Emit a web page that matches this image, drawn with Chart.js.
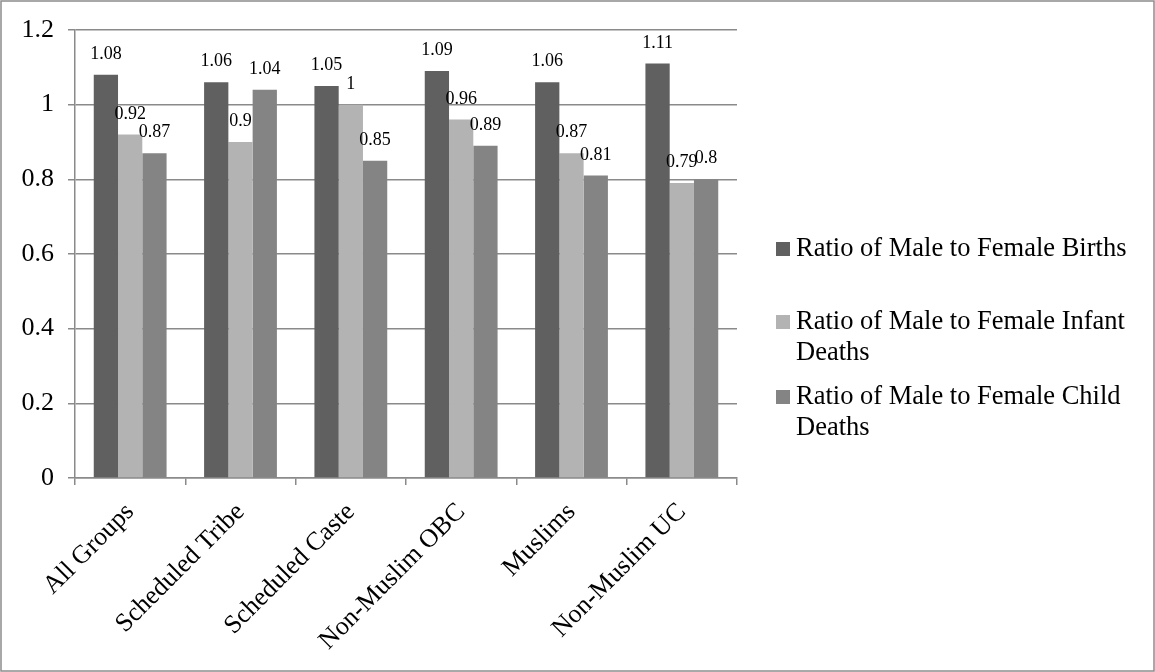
<!DOCTYPE html>
<html>
<head>
<meta charset="utf-8">
<script src="https://cdn.jsdelivr.net/npm/chart.js@4/dist/chart.umd.min.js"></script>
<style>
  html, body { margin: 0; padding: 0; background: #fff; }
  #wrap { width: 1155px; height: 672px; position: relative; }
</style>
</head>
<body>
<div id="wrap"><canvas id="c"></canvas></div>
<script>
// Groups on the x axis
const categories = ['All Groups', 'Scheduled Tribe', 'Scheduled Caste', 'Non-Muslim OBC', 'Muslims', 'Non-Muslim UC'];

// Series names (legend text, already split into lines)
const seriesNames = [
  ['Ratio of Male to Female Births'],
  ['Ratio of Male to Female Infant', 'Deaths'],
  ['Ratio of Male to Female Child', 'Deaths']
];

// Series values
const birthsRatio = [1.08, 1.06, 1.05, 1.09, 1.06, 1.11];
const infantDeathsRatio = [0.92, 0.9, 1, 0.96, 0.87, 0.79];
const childDeathsRatio = [0.87, 1.04, 0.85, 0.89, 0.81, 0.8];

// Y-axis tick labels
const yTickLabels = ['0', '0.2', '0.4', '0.6', '0.8', '1', '1.2'];

const seriesColors = ['#606060', '#b3b3b3', '#848484'];
const serif = "'Liberation Serif', 'Times New Roman', serif";
const axisGrey = '#8a8a8a';

// white background + outer frame
const framePlugin = {
  id: 'frame',
  beforeDraw(chart) {
    const ctx = chart.ctx;
    ctx.save();
    ctx.fillStyle = '#fff';
    ctx.fillRect(0, 0, chart.width, chart.height);
    ctx.restore();
  },
  afterDraw(chart) {
    const ctx = chart.ctx;
    ctx.save();
    ctx.strokeStyle = '#8c8c8c';
    ctx.lineWidth = 1.5;
    ctx.strokeRect(1, 1, chart.width - 2, chart.height - 2);
    ctx.restore();
  }
};

// value labels above each bar
const valueLabelPlugin = {
  id: 'valueLabels',
  afterDatasetsDraw(chart) {
    const ctx = chart.ctx;
    ctx.save();
    ctx.font = '18px ' + serif;
    ctx.fillStyle = '#000';
    ctx.textAlign = 'center';
    ctx.textBaseline = 'alphabetic';
    chart.data.datasets.forEach((ds, di) => {
      const meta = chart.getDatasetMeta(di);
      meta.data.forEach((bar, i) => {
        ctx.fillText(String(ds.data[i]), bar.x, bar.y - 16);
      });
    });
    ctx.restore();
  }
};

// legend on the right with wrapped entries
const sideLegendPlugin = {
  id: 'sideLegend',
  afterDraw(chart) {
    const ctx = chart.ctx;
    const area = chart.chartArea;
    const boxX = area.right + 39;
    const textX = boxX + 20;
    const lineH = 31;
    const firstBaselines = [256, 329, 404];
    ctx.save();
    ctx.font = '26.5px ' + serif;
    ctx.fillStyle = '#000';
    ctx.textAlign = 'left';
    ctx.textBaseline = 'alphabetic';
    chart.data.datasets.forEach((ds, di) => {
      const base = firstBaselines[di];
      ctx.fillStyle = ds.backgroundColor;
      ctx.fillRect(boxX, base - 14, 14, 14);
      ctx.fillStyle = '#000';
      seriesNames[di].forEach((line, li) => {
        ctx.fillText(line, textX, base + li * lineH);
      });
    });
    ctx.restore();
  }
};

new Chart(document.getElementById('c'), {
  type: 'bar',
  data: {
    labels: categories,
    datasets: [
      { label: seriesNames[0].join(' '), data: birthsRatio, backgroundColor: seriesColors[0] },
      { label: seriesNames[1].join(' '), data: infantDeathsRatio, backgroundColor: seriesColors[1] },
      { label: seriesNames[2].join(' '), data: childDeathsRatio, backgroundColor: seriesColors[2] }
    ]
  },
  options: {
    responsive: true,
    maintainAspectRatio: false,
    animation: false,
    datasets: { bar: { categoryPercentage: 0.66, barPercentage: 1.0, borderWidth: 0 } },
    layout: { padding: { left: 0, top: 30, right: 418, bottom: 0 } },
    plugins: {
      legend: { display: false },
      tooltip: { enabled: false }
    },
    scales: {
      x: {
        offset: true,
        grid: {
          display: true,
          drawOnChartArea: false,
          drawTicks: true,
          tickLength: 7,
          color: axisGrey,
          lineWidth: 1.5
        },
        border: { display: true, color: axisGrey, width: 1.5 },
        ticks: {
          color: '#000',
          font: { family: serif, size: 26 },
          minRotation: 45,
          maxRotation: 45,
          autoSkip: false,
          padding: 12
        },
        afterFit(scale) { scale.height = 672 - 478; }
      },
      y: {
        min: 0,
        max: 1.2,
        ticks: {
          stepSize: 0.2,
          color: '#000',
          font: { family: serif, size: 26 },
          padding: 14,
          callback: (v, i) => yTickLabels[i]
        },
        grid: {
          color: axisGrey,
          lineWidth: 1.5,
          drawTicks: true,
          tickLength: 7
        },
        border: { display: true, color: axisGrey, width: 1.5 },
        afterFit(scale) { scale.width = 75; }
      }
    }
  },
  plugins: [framePlugin, valueLabelPlugin, sideLegendPlugin]
});
</script>
</body>
</html>
